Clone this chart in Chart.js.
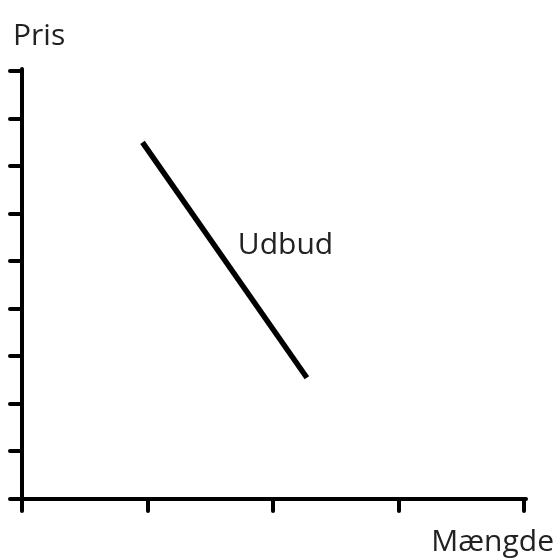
<!DOCTYPE html>
<html>
<head>
<meta charset="utf-8">
<script src="https://cdn.jsdelivr.net/npm/chart.js@4"></script>
<style>
  html, body { margin: 0; padding: 0; background: #fff; }
  #wrap { width: 560px; height: 560px; }
</style>
</head>
<body>
<div id="wrap"><canvas id="chart"></canvas></div>
<script>
// supply line (quantity, price)
var supplyX = [0.96, 2.27];
var supplyY = [7.5, 2.55];
var curveLabel = "Udbud";
var curveLabelAt = [1.72, 5.15];
var yTitle = "Pris";
var xTitle = "Mængde";
var xMax = 4;
var yMax = 9;

var textFont = "30px 'Open Sans'";
var textColor = "#222";

// draw the free texts and round line caps for axes
var textPlugin = {
  id: "texts",
  beforeDraw: function (chart) {
    chart.ctx.lineCap = "round";
  },
  afterDraw: function (chart) {
    var ctx = chart.ctx;
    var xs = chart.scales.x;
    var ys = chart.scales.y;
    ctx.save();
    ctx.font = textFont;
    ctx.fillStyle = textColor;
    ctx.textBaseline = "alphabetic";
    ctx.textAlign = "left";
    ctx.fillText(yTitle, 13, 45);
    ctx.fillText(curveLabel, xs.getPixelForValue(curveLabelAt[0]), ys.getPixelForValue(curveLabelAt[1]));
    ctx.textAlign = "right";
    ctx.fillText(xTitle, 554, 551);
    ctx.restore();
  }
};

var points = [];
for (var i = 0; i < supplyX.length; i++) {
  points.push({ x: supplyX[i], y: supplyY[i] });
}

var axisGrid = {
  drawOnChartArea: false,
  drawTicks: true,
  tickLength: 12,
  color: "#000",
  lineWidth: 4,
  tickColor: "#000",
  tickWidth: 4
};

new Chart(document.getElementById("chart"), {
  type: "line",
  data: {
    datasets: [
      {
        data: points,
        borderColor: "#000",
        borderWidth: 5.5,
        pointRadius: 0,
        fill: false
      }
    ]
  },
  options: {
    responsive: true,
    maintainAspectRatio: false,
    animation: false,
    layout: { padding: { left: 10, right: 36, top: 71, bottom: 49 } },
    plugins: { legend: { display: false }, tooltip: { enabled: false } },
    scales: {
      x: {
        type: "linear",
        min: 0,
        max: xMax,
        ticks: { stepSize: 1, display: false },
        grid: axisGrid,
        border: { display: true, color: "#000", width: 4 }
      },
      y: {
        type: "linear",
        min: 0,
        max: yMax,
        ticks: { stepSize: 1, display: false },
        grid: axisGrid,
        border: { display: true, color: "#000", width: 4 }
      }
    }
  },
  plugins: [textPlugin]
});
</script>
</body>
</html>
